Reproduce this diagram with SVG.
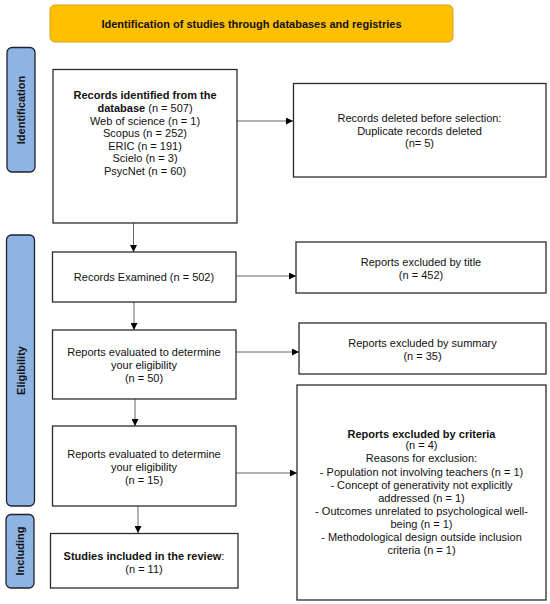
<svg xmlns="http://www.w3.org/2000/svg" width="550" height="604" viewBox="0 0 550 604">
<style>
text{font-family:"Liberation Sans",Arial,sans-serif;font-size:11px;fill:#111;text-anchor:middle}
.b{font-weight:bold}
.box{fill:#fff;stroke:#2b2b2b;stroke-width:1.3}
.side{fill:#8EB4E3;stroke:#1e2230;stroke-width:1.3}
.con{stroke:#666;stroke-width:1;fill:none;marker-end:url(#ah)}
</style>
<defs>
<marker id="ah" viewBox="0 0 10 10" refX="10" refY="5" markerWidth="7" markerHeight="7" markerUnits="userSpaceOnUse" orient="auto">
<path d="M0,0 L10,5 L0,10 Z" fill="#000"/>
</marker>
</defs>
<rect width="550" height="604" fill="#fff"/>
<g id="title">
<rect x="50" y="5" width="403" height="37" rx="5" fill="#FFC000" stroke="#D4A017" stroke-width="1"/>
<text class="b" x="251.5" y="27.5">Identification of studies through databases and registries</text>
</g>
<g id="side-identification">
<rect class="side" x="7" y="47.5" width="28" height="124.5" rx="5"/>
<text class="b" transform="translate(25,110) rotate(-90)">Identification</text>
</g>
<g id="side-eligibility">
<rect class="side" x="6.5" y="235" width="28" height="271" rx="5"/>
<text class="b" transform="translate(24.5,370.5) rotate(-90)">Eligibility</text>
</g>
<g id="side-including">
<rect class="side" x="6" y="514.5" width="28" height="73.5" rx="5"/>
<text class="b" transform="translate(24,551) rotate(-90)">Including</text>
</g>
<g id="connectors">
<line class="con" x1="133.5" y1="223" x2="133.5" y2="252"/>
<line class="con" x1="134" y1="302" x2="134" y2="330"/>
<line class="con" x1="135" y1="399" x2="135" y2="426"/>
<line class="con" x1="138" y1="506" x2="138" y2="533"/>
<line class="con" x1="237" y1="121" x2="293" y2="121"/>
<line class="con" x1="236" y1="276" x2="296" y2="276"/>
<line class="con" x1="236" y1="352" x2="299" y2="352"/>
<line class="con" x1="236" y1="473" x2="297" y2="473"/>
</g>
<g id="n-records-identified">
<rect class="box" x="53" y="69.5" width="184" height="153.5"/>
<text x="145" y="99"><tspan class="b">Records identified from the</tspan></text>
<text x="145" y="112"><tspan class="b">database</tspan> (n = 507)</text>
<text x="145" y="124.5">Web of science (n = 1)</text>
<text x="145" y="137">Scopus (n = 252)</text>
<text x="145" y="149.5">ERIC (n = 191)</text>
<text x="145" y="162">Scielo (n = 3)</text>
<text x="145" y="174.5">PsycNet (n = 60)</text>
</g>
<g id="n-records-deleted">
<rect class="box" x="293.5" y="83.5" width="252.5" height="93.5"/>
<text x="419.5" y="122">Records deleted before selection:</text>
<text x="419.5" y="134.5">Duplicate records deleted</text>
<text x="419.5" y="147">(n= 5)</text>
</g>
<g id="n-records-examined">
<rect class="box" x="52.5" y="252" width="183.5" height="50"/>
<text x="144" y="281">Records Examined (n = 502)</text>
</g>
<g id="n-excluded-title">
<rect class="box" x="296" y="242" width="250" height="51"/>
<text x="421" y="265.5">Reports excluded by title</text>
<text x="421" y="279">(n = 452)</text>
</g>
<g id="n-evaluated-50">
<rect class="box" x="52.5" y="330" width="183.5" height="69"/>
<text x="144" y="356">Reports evaluated to determine</text>
<text x="144" y="369">your eligibility</text>
<text x="144" y="382">(n = 50)</text>
</g>
<g id="n-excluded-summary">
<rect class="box" x="299" y="323" width="247" height="51"/>
<text x="422.5" y="347">Reports excluded by summary</text>
<text x="422.5" y="360">(n = 35)</text>
</g>
<g id="n-evaluated-15">
<rect class="box" x="52.5" y="426" width="183.5" height="80"/>
<text x="144" y="458">Reports evaluated to determine</text>
<text x="144" y="471">your eligibility</text>
<text x="144" y="484">(n = 15)</text>
</g>
<g id="n-excluded-criteria">
<rect class="box" x="297" y="385" width="249" height="215"/>
<text class="b" x="421.5" y="438">Reports excluded by criteria</text>
<text x="421.5" y="449">(n = 4)</text>
<text x="421.5" y="462">Reasons for exclusion:</text>
<text x="421.5" y="475.5">- Population not involving teachers (n = 1)</text>
<text x="421.5" y="488.5">- Concept of generativity not explicitly</text>
<text x="421.5" y="501.5">addressed (n = 1)</text>
<text x="421.5" y="514.5">- Outcomes unrelated to psychological well-</text>
<text x="421.5" y="527.5">being (n = 1)</text>
<text x="421.5" y="540.5">- Methodological design outside inclusion</text>
<text x="421.5" y="553.5">criteria (n = 1)</text>
</g>
<g id="n-included">
<rect class="box" x="50.5" y="533.5" width="187.5" height="54.5"/>
<text x="144" y="560"><tspan class="b">Studies included in the review</tspan>:</text>
<text x="144" y="573">(n = 11)</text>
</g>
</svg>
